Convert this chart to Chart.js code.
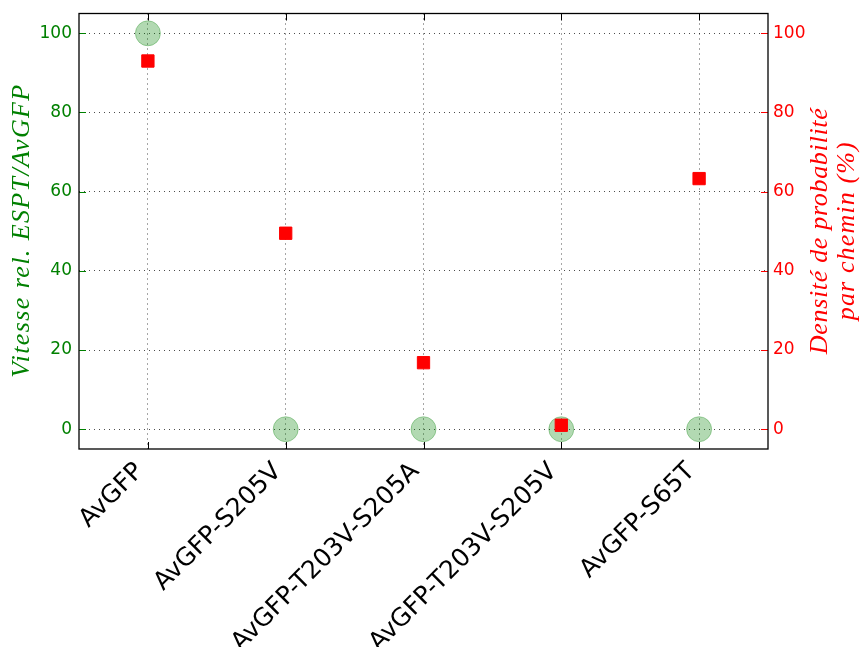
<!DOCTYPE html>
<html>
<head>
<meta charset="utf-8">
<script src="https://cdn.jsdelivr.net/npm/chart.js@4/dist/chart.umd.min.js"></script>
<style>
  html, body { margin: 0; padding: 0; background: #fff; }
  #wrap { width: 860px; height: 647px; }
</style>
</head>
<body>
<div id="wrap"><canvas id="chart"></canvas></div>
<script>
// donnees
const variants = ['AvGFP', 'AvGFP-S205V', 'AvGFP-T203V-S205A', 'AvGFP-T203V-S205V', 'AvGFP-S65T'];
const vitesseRel = [100, 0, 0, 0, 0];          // axe gauche (vert)
const densiteProba = [93, 49.5, 16.8, 1, 63.3]; // axe droit (rouge)
const yTicks = [0, 20, 40, 60, 80, 100];

const VERT = '#008000';
const ROUGE = '#ff0000';

// texte vertical (bas -> haut) etire a une longueur donnee
function texteVertical(ctx, txt, x, y, longueur) {
  ctx.save();
  ctx.letterSpacing = '0px';
  const w = ctx.measureText(txt).width;
  const esp = Math.max(0, (longueur - w) / (txt.length - 1));
  ctx.letterSpacing = esp + 'px';
  ctx.translate(x, y);
  ctx.rotate(-Math.PI / 2);
  ctx.textAlign = 'left';
  ctx.fillText(txt, -longueur / 2, 0);
  ctx.restore();
}

// cadre + graduations vers l'interieur + titres d'axes (style matplotlib)
const cadrePlugin = {
  id: 'cadre',
  afterDraw(chart) {
    const { ctx, chartArea: a, scales } = chart;
    const tl = 7;
    ctx.save();
    ctx.lineWidth = 1;

    ctx.strokeStyle = VERT;
    yTicks.forEach(v => {
      const y = Math.round(scales.y.getPixelForValue(v)) + 0.5;
      ctx.beginPath(); ctx.moveTo(a.left, y); ctx.lineTo(a.left + tl, y); ctx.stroke();
    });
    ctx.strokeStyle = ROUGE;
    yTicks.forEach(v => {
      const y = Math.round(scales.y1.getPixelForValue(v)) + 0.5;
      ctx.beginPath(); ctx.moveTo(a.right - tl, y); ctx.lineTo(a.right, y); ctx.stroke();
    });
    ctx.strokeStyle = '#000';
    variants.forEach((_, i) => {
      const x = Math.round(scales.x.getPixelForValue(i)) + 0.5;
      ctx.beginPath(); ctx.moveTo(x, a.bottom); ctx.lineTo(x, a.bottom - tl); ctx.stroke();
      ctx.beginPath(); ctx.moveTo(x, a.top); ctx.lineTo(x, a.top + tl); ctx.stroke();
    });

    ctx.lineWidth = 1.3;
    ctx.strokeRect(a.left, a.top, a.right - a.left, a.bottom - a.top);

    // titres d'axes
    const cy = (a.top + a.bottom) / 2;
    ctx.textBaseline = 'middle';
    ctx.font = 'italic 26px "Liberation Serif"';

    ctx.fillStyle = VERT;
    texteVertical(ctx, 'Vitesse rel. ESPT/AvGFP', 22, cy, 293);

    ctx.fillStyle = ROUGE;
    texteVertical(ctx, 'Densité de probabilité', 820, cy, 246);
    texteVertical(ctx, 'par chemin (%)', 847, cy, 178);

    ctx.restore();
  }
};

// largeur fixe des axes verticaux, sans marge ajoutee pour les etiquettes
const axeVertical = largeur => s => {
  s.width = largeur;
  s.paddingTop = 0;
  s.paddingBottom = 0;
};

const ctx = document.getElementById('chart').getContext('2d');
new Chart(ctx, {
  type: 'line',
  data: {
    labels: variants,
    datasets: [
      {
        label: 'Densité de probabilité',
        data: densiteProba,
        yAxisID: 'y1',
        showLine: false,
        pointStyle: 'rect',
        pointRadius: 8.7,
        pointBackgroundColor: ROUGE,
        pointBorderColor: ROUGE,
        pointBorderWidth: 1,
        order: 0
      },
      {
        label: 'Vitesse rel.',
        data: vitesseRel,
        yAxisID: 'y',
        showLine: false,
        pointStyle: 'circle',
        pointRadius: 12.5,
        pointBackgroundColor: 'rgba(0, 128, 0, 0.3)',
        pointBorderColor: 'rgba(0, 128, 0, 0.3)',
        pointBorderWidth: 1,
        order: 1
      }
    ]
  },
  options: {
    responsive: true,
    maintainAspectRatio: false,
    animation: false,
    events: [],
    layout: { padding: { top: 12, left: 0, right: 0, bottom: 0 } },
    plugins: {
      legend: { display: false },
      tooltip: { enabled: false }
    },
    scales: {
      x: {
        offset: true,
        afterFit: s => { s.height = 198; },
        border: { display: false, dash: [1, 4] },
        grid: { offset: false, drawTicks: false, color: 'rgba(0,0,0,0.7)' },
        ticks: {
          autoSkip: false,
          minRotation: 45,
          maxRotation: 45,
          padding: 8,
          labelOffset: -8,
          color: '#000',
          font: { family: '"DejaVu Sans"', size: 25 }
        }
      },
      y: {
        position: 'left',
        min: -5,
        max: 105,
        afterFit: axeVertical(79),
        afterBuildTicks: s => { s.ticks = yTicks.map(v => ({ value: v })); },
        border: { display: false, dash: [1, 4] },
        grid: { drawTicks: false, color: 'rgba(0,0,0,0.7)' },
        ticks: {
          padding: 7,
          color: VERT,
          font: { family: '"DejaVu Sans"', size: 17 }
        }
      },
      y1: {
        position: 'right',
        min: -5,
        max: 105,
        afterFit: axeVertical(92),
        afterBuildTicks: s => { s.ticks = yTicks.map(v => ({ value: v })); },
        border: { display: false },
        grid: { display: false, drawTicks: false },
        ticks: {
          padding: 5,
          color: ROUGE,
          font: { family: '"DejaVu Sans"', size: 17 }
        }
      }
    }
  },
  plugins: [cadrePlugin]
});
</script>
</body>
</html>
